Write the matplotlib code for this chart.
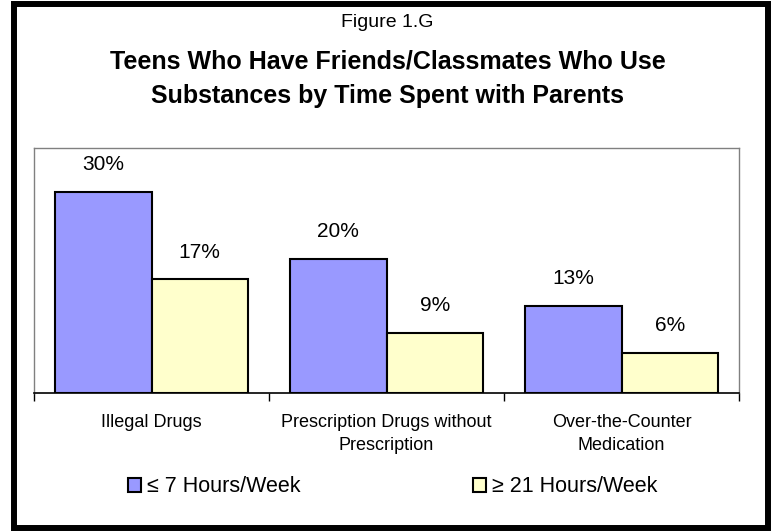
import matplotlib
matplotlib.use("Agg")
from matplotlib import pyplot as plt
from matplotlib.patches import Rectangle
import numpy as np

plt.rcParams['font.family'] = ['Liberation Sans', 'DejaVu Sans']

categories = ["Illegal Drugs", "Prescription Drugs without\nPrescription", "Over-the-Counter\nMedication"]
series_names = ["\u2264 7 Hours/Week", "\u2265 21 Hours/Week"]
low_time = [30, 20, 13]
high_time = [17, 9, 6]
colors = ["#9999FF", "#FFFFCC"]

fig = plt.figure(figsize=(7.75, 5.31), dpi=100)

# outer black frame
fig.patches.append(Rectangle((0.018, 0.006), 0.973, 0.987, transform=fig.transFigure,
                             fill=False, edgecolor="black", linewidth=4.3))

fig.text(0.5, 0.957, "Figure 1.G", ha="center", va="center", fontsize=14)
fig.text(0.5, 0.884, "Teens Who Have Friends/Classmates Who Use", ha="center", va="center",
         fontsize=18, fontweight="bold")
fig.text(0.5, 0.819, "Substances by Time Spent with Parents", ha="center", va="center",
         fontsize=18, fontweight="bold")

ax = fig.add_axes([0.0439, 0.2599, 0.9097, 0.4614])
x = np.arange(len(categories))
w = 0.41
bars1 = ax.bar(x - w / 2, low_time, w, color=colors[0], edgecolor="black", linewidth=1.5, label=series_names[0])
bars2 = ax.bar(x + w / 2, high_time, w, color=colors[1], edgecolor="black", linewidth=1.5, label=series_names[1])

for bars, vals in [(bars1, low_time), (bars2, high_time)]:
    for b, v in zip(bars, vals):
        ax.text(b.get_x() + b.get_width() / 2, v + 4, "{}%".format(v), ha="center", va="center", fontsize=15)

ax.set_xlim(-0.5, 2.5)
ax.set_ylim(0, 36.5)
ax.set_yticks([])
ax.set_xticks([-0.5, 0.5, 1.5, 2.5])
ax.set_xticklabels([])
ax.set_xticks(x, minor=True)
ax.set_xticklabels(categories, minor=True, fontsize=13, linespacing=1.45)
ax.tick_params(axis="x", which="major", direction="out", length=6, width=1, color="black")
ax.tick_params(axis="x", which="minor", length=0, pad=15)
for s in ["top", "right", "left"]:
    ax.spines[s].set_color("#808080")
    ax.spines[s].set_linewidth(1)
ax.spines["bottom"].set_color("black")
ax.spines["bottom"].set_linewidth(1.2)

fig.legend(handles=[bars1, bars2], labels=series_names, loc="center", bbox_to_anchor=(0.507, 0.083),
           ncol=2, frameon=False, fontsize=15.5, handlelength=0.6, handleheight=0.6,
           handletextpad=0.3, columnspacing=8.0)

fig.savefig("out.png", dpi=100)
